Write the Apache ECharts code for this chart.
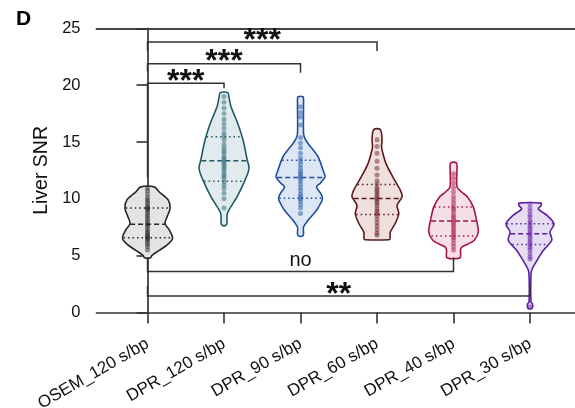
<!DOCTYPE html>
<html><head><meta charset="utf-8">
<script src="https://cdn.jsdelivr.net/npm/echarts@6/dist/echarts.min.js"></script>
<style>html,body{margin:0;padding:0;background:#fff}#c{width:575px;height:408px}</style>
</head><body><div id="c"></div>
<script>
// ---- data ----
const categories = ['OSEM_120 s/bp','DPR_120 s/bp','DPR_90 s/bp','DPR_60 s/bp','DPR_40 s/bp','DPR_30 s/bp'];
const yMin = 0, yMax = 25, yStep = 5;
// violin density profiles: [value, relative half-width]
const profOSEM120 = [[11.05,0.27],[10.6,0.47],[9.88,0.83],[9.14,0.9],[8.41,0.78],[7.82,0.7],[7.23,0.88],[6.5,1.0],[5.9,0.76],[5.47,0.47],[5.03,0.18],[4.82,0.12]];
const profDPR120 = [[19.34,0.15],[18.9,0.2],[18.1,0.28],[16.63,0.55],[15.17,0.76],[13.4,0.93],[12.67,1.0],[11.64,0.84],[10.17,0.52],[9.0,0.19],[8.55,0.12],[7.9,0.12],[7.67,0.08]];
const profDPR90 = [[18.98,0.1],[18.8,0.12],[15.75,0.12],[15.3,0.18],[14.87,0.3],[13.7,0.7],[12.52,0.9],[11.93,0.98],[11.4,0.8],[11.05,0.64],[10.5,0.8],[10.03,0.88],[9.5,0.78],[9.0,0.64],[8.11,0.3],[7.52,0.12],[6.9,0.12],[6.72,0.08]];
const profDPR60 = [[16.1,0.13],[15.3,0.2],[14.6,0.18],[14.13,0.22],[13.1,0.36],[11.93,0.63],[10.76,0.93],[10.17,1.0],[9.43,0.8],[8.69,0.87],[7.81,0.72],[7.07,0.53],[6.5,0.52],[6.4,0.48]];
const profDPR40 = [[13.17,0.11],[12.9,0.14],[11.05,0.14],[10.6,0.32],[10.17,0.56],[9.29,0.79],[8.11,0.92],[7.08,0.99],[6.35,0.83],[6.0,0.56],[5.76,0.33],[5.5,0.28],[4.82,0.26]];
const profDPR30 = [[9.62,0.44],[9.4,0.44],[9.13,0.33],[8.54,0.68],[7.81,0.96],[7.08,0.8],[6.35,0.87],[5.46,0.53],[4.58,0.28],[3.85,0.09],[3.4,0.04],[0.9,0.04],[0.75,0.1],[0.45,0.1],[0.33,0.06]];
// quartiles [Q1, median, Q3]
const quartOSEM120 = [6.58, 7.76, 9.19];
const quartDPR120 = [11.55, 13.34, 15.46];
const quartDPR90 = [10.05, 11.87, 13.4];
const quartDPR60 = [8.63, 10.03, 11.27];
const quartDPR40 = [6.72, 8.04, 9.29];
const quartDPR30 = [5.99, 6.93, 7.81];
// individual points
const ptsOSEM120 = [10.95,10.7,10.4,10.1,9.9,9.7,9.5,9.3,9.2,9.1,9.0,8.8,8.6,8.4,8.2,8.0,7.8,7.7,7.5,7.3,7.1,7.0,6.8,6.7,6.6,6.5,6.4,6.2,6.0,5.8,5.5];
const ptsDPR120 = [19.0,18.5,18.0,17.5,17.0,16.6,16.2,15.8,15.5,15.2,14.8,14.5,14.2,14.0,13.7,13.5,13.3,13.1,12.9,12.7,12.5,12.2,12.0,11.8,11.5,11.2,10.9,10.5,10.0,9.2];
const ptsDPR90 = [18.1,17.6,17.2,16.5,15.4,14.9,14.5,14.0,13.6,13.3,13.0,12.7,12.4,12.2,12.0,11.8,11.6,11.3,11.0,10.7,10.4,10.2,10.0,9.8,9.5,9.2,8.7];
const ptsDPR60 = [15.2,14.6,14.0,13.3,12.7,12.1,11.6,11.3,11.0,10.8,10.6,10.4,10.2,10.0,9.8,9.6,9.4,9.1,8.9,8.7,8.5,8.2,7.9,7.6,7.3,7.0,6.8];
const ptsDPR40 = [12.2,11.8,11.4,11.0,10.6,10.2,9.9,9.6,9.3,9.1,8.9,8.6,8.4,8.2,8.0,7.8,7.6,7.4,7.2,7.0,6.8,6.6,6.4,6.1,5.8,5.5];
const ptsDPR30 = [9.55,9.2,8.9,8.6,8.4,8.1,7.9,7.7,7.5,7.3,7.1,6.9,6.7,6.5,6.3,6.1,5.9,5.7,5.5,5.2,4.9,4.7,0.5];
// significance brackets: [group A, group B, bar value, end value A, end value B, label]
const brackets = [
  [0, 1, 20.17, 11.93, 19.73, '***'],
  [0, 2, 21.89, 21.23, 21.09, '***'],
  [0, 3, 23.79, 23.0, 23.0, '***'],
  [0, 4, 3.6, 4.78, 4.87, 'no'],
  [0, 5, 1.46, 2.34, 2.43, '**']
];

// ---- styles ----
const profiles = [profOSEM120, profDPR120, profDPR90, profDPR60, profDPR40, profDPR30];
const quartiles = [quartOSEM120, quartDPR120, quartDPR90, quartDPR60, quartDPR40, quartDPR30];
const points = [ptsOSEM120, ptsDPR120, ptsDPR90, ptsDPR60, ptsDPR40, ptsDPR30];
const strokeCol = ['#262626','#1f5a66','#1d4f9c','#5a1a1c','#a3164c','#5b219e'];
const fillCol   = ['#e4e4e4','#e1eaec','#dce6f4','#efe0de','#f7dfe7','#e7ddf3'];
const dotCol    = ['rgba(40,40,40,0.6)','rgba(35,100,112,0.6)','rgba(28,84,168,0.6)','rgba(100,28,32,0.6)','rgba(168,20,80,0.6)','rgba(100,36,168,0.6)'];
const HALF = 0.327;
const FONT = 'Liberation Sans, Arial, sans-serif';
const AX = '#333333';

function widthAt(prof, v) {
  for (let i = 0; i < prof.length - 1; i++) {
    const a = prof[i], b = prof[i+1];
    if (v <= a[0] && v >= b[0]) {
      const t = (a[0] - v) / (a[0] - b[0]);
      return a[1] + t * (b[1] - a[1]);
    }
  }
  return 0;
}

const chart = echarts.init(document.getElementById('c'), null, {renderer: 'canvas'});

const violinSeries = {
  type: 'custom',
  data: categories.map((c, i) => [i, quartiles[i][1]]),
  z: 2,
  renderItem: function (params, api) {
    const g = params.dataIndex;
    const prof = profiles[g];
    const pts = [];
    for (let i = 0; i < prof.length; i++) pts.push(api.coord([g + prof[i][1] * HALF, prof[i][0]]));
    for (let i = prof.length - 1; i >= 0; i--) pts.push(api.coord([g - prof[i][1] * HALF, prof[i][0]]));
    const children = [{
      type: 'polygon',
      shape: {points: pts, smooth: 0.3},
      style: {fill: fillCol[g], stroke: strokeCol[g], lineWidth: 1.6}
    }];
    quartiles[g].forEach((q, k) => {
      const w = widthAt(prof, q) * HALF * 0.97;
      const p1 = api.coord([g - w, q]), p2 = api.coord([g + w, q]);
      children.push({
        type: 'line', z2: 5,
        shape: {x1: p1[0], y1: p1[1], x2: p2[0], y2: p2[1]},
        style: {stroke: strokeCol[g], lineWidth: 1.5, lineDash: k === 1 ? [5, 3] : [1.5, 3]}
      });
    });
    return {type: 'group', children: children};
  }
};

const dotSeries = points.map((arr, g) => ({
  type: 'scatter',
  data: arr.map(v => [g, v]),
  symbol: 'circle',
  symbolSize: 5,
  z: 3,
  itemStyle: {color: dotCol[g]},
  silent: true
}));

const bracketSeries = {
  type: 'custom',
  data: brackets.map((b, i) => [b[0], b[2]]),
  z: 4,
  renderItem: function (params, api) {
    const b = brackets[params.dataIndex];
    const pA = api.coord([b[0], b[3]]), pAL = api.coord([b[0], b[2]]);
    const pBL = api.coord([b[1], b[2]]), pB = api.coord([b[1], b[4]]);
    const isStar = b[5] !== 'no';
    const cx = (pAL[0] + pBL[0]) / 2;
    return {type: 'group', children: [
      {type: 'polyline', shape: {points: [pA, pAL, pBL, pB]}, style: {stroke: AX, lineWidth: 1.5, fill: null}},
      {type: 'text', x: cx, y: pAL[1] + (isStar ? 15 : -1),
       style: {text: b[5], textAlign: 'center', textVerticalAlign: 'bottom', fill: '#111',
               font: (isStar ? 'bold 32px ' : '20px ') + FONT}}
    ]};
  }
};

chart.setOption({
  animation: false,
  grid: {left: 96.5, right: 0, top: 28.3, bottom: 95.5, containLabel: false, outerBoundsMode: 'none'},
  xAxis: [{
    type: 'value', min: -0.667, max: 5.588,
    axisLine: {show: true, lineStyle: {color: AX, width: 1.7}},
    axisTick: {show: true, length: 11, customValues: [0,1,2,3,4,5], lineStyle: {color: AX, width: 1.6}},
    axisLabel: {customValues: [0,1,2,3,4,5], formatter: v => categories[Math.round(v)] || '',
      rotate: 30, margin: 30, fontSize: 17, color: '#111', fontFamily: FONT},
    splitLine: {show: false}
  }, {
    type: 'value', min: -0.667, max: 5.588, position: 'top',
    axisLine: {show: true, lineStyle: {color: '#444', width: 2}},
    axisTick: {show: false}, axisLabel: {show: false}, splitLine: {show: false}
  }],
  yAxis: {
    type: 'value', min: yMin, max: yMax, interval: yStep,
    name: 'Liver SNR', nameLocation: 'middle', nameGap: 40,
    nameTextStyle: {fontSize: 19.5, color: '#111', fontFamily: FONT},
    axisLine: {show: true, lineStyle: {color: AX, width: 1.7}},
    axisTick: {show: true, length: 11, lineStyle: {color: AX, width: 1.6}},
    axisLabel: {margin: 16, fontSize: 16.5, color: '#111', fontFamily: FONT},
    splitLine: {show: false}
  },
  graphic: [{type: 'text', left: 16, top: 9, style: {text: 'D', font: 'bold 21px ' + FONT, fill: '#000'}}],
  series: [violinSeries].concat(dotSeries).concat([bracketSeries])
});
</script></body></html>
